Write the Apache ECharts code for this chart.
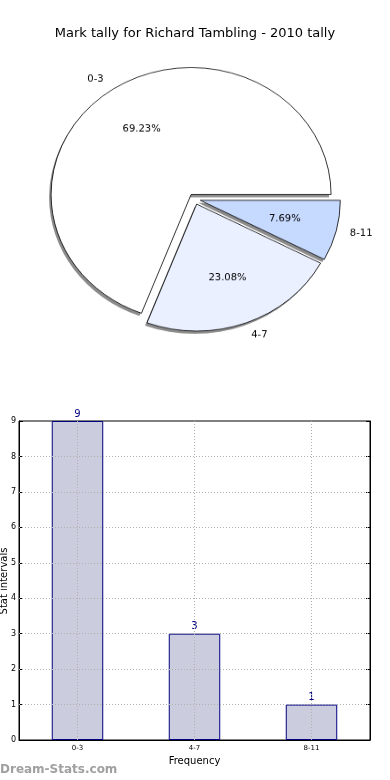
<!DOCTYPE html>
<html>
<head>
<meta charset="utf-8">
<script src="https://cdn.jsdelivr.net/npm/echarts@6/dist/echarts.min.js"></script>
<style>
html,body{margin:0;padding:0;background:#fff;}
#bar{position:absolute;left:0;top:0;width:390px;height:780px;}
#pie{position:absolute;left:0;top:0;width:390px;height:420px;transform:scaleY(0.907);transform-origin:0 0;pointer-events:none;}
</style>
</head>
<body>
<div id="bar"></div>
<div id="pie"></div>
<script>
const titleText = 'Mark tally for Richard Tambling - 2010 tally';
const categories = ['0-3', '4-7', '8-11'];
const counts = [9, 3, 1];
const pieColors = ['#ffffff', '#eaf0ff', '#c6d9ff'];
const yTicks = [0, 1, 2, 3, 4, 5, 6, 7, 8, 9];
const xName = 'Frequency';
const yName = 'Stat intervals';
const watermark = 'Dream-Stats.com';

const FONT = 'DejaVu Sans';

// ---------- bar chart + title ----------
const bar = echarts.init(document.getElementById('bar'), null, {renderer: 'canvas'});
const dotted = {color: '#b0b0b0', type: [1, 2], width: 1};
const gridMarks = [];
yTicks.slice(1, -1).forEach(v => gridMarks.push({yAxis: v}));
categories.forEach(c => gridMarks.push({xAxis: c}));

bar.setOption({
  animation: false,
  backgroundColor: '#fff',
  title: {
    text: titleText, left: 'center', top: 22,
    textStyle: {fontFamily: FONT, fontSize: 13, fontWeight: 'normal', color: '#000'}
  },
  graphic: [{
    type: 'text', left: 0, top: 764,
    style: {text: watermark, fontFamily: FONT, fontSize: 12, fontWeight: 'bold', fill: '#a0a0a0'}
  }, {
    type: 'text', x: 4, y: 581, rotation: Math.PI / 2,
    style: {text: yName, fontFamily: FONT, fontSize: 10, fill: '#000', align: 'center', verticalAlign: 'middle'}
  }],
  grid: {left: 19, right: 20, top: 421, bottom: 40, containLabel: false, outerBoundsMode: 'none',
    show: true, borderColor: '#000', borderWidth: 1, backgroundColor: 'transparent'},
  xAxis: [{
    type: 'category', data: categories,
    axisLine: {lineStyle: {color: '#000'}},
    axisTick: {show: true, inside: true, alignWithLabel: true, length: 4, lineStyle: {color: '#000'}},
    axisLabel: {fontFamily: FONT, fontSize: 7, color: '#000', margin: 5},
    name: xName, nameLocation: 'middle', nameGap: 16, nameMoveOverlap: false,
    nameTextStyle: {fontFamily: FONT, fontSize: 10, color: '#000'},
    splitLine: {show: false}
  }],
  yAxis: [{
    type: 'value', min: 0, max: 9, interval: 1,
    axisLine: {show: true, lineStyle: {color: '#000'}},
    axisTick: {show: true, inside: true, length: 4, lineStyle: {color: '#000'}},
    axisLabel: {fontFamily: FONT, fontSize: 8, color: '#000', margin: 3},
    splitLine: {show: false}
  }, {
    type: 'value', min: 0, max: 9, interval: 1, position: 'right',
    axisLine: {show: true, lineStyle: {color: '#000'}},
    axisTick: {show: true, inside: true, length: 4, lineStyle: {color: '#000'}},
    axisLabel: {show: false}, splitLine: {show: false}
  }],
  series: [{
    type: 'bar', data: counts, barWidth: '44%',
    itemStyle: {color: '#ccccdf', borderColor: '#000080', borderWidth: 1},
    label: {show: true, position: 'top', distance: 2, color: '#000080', fontFamily: FONT, fontSize: 10},
    markLine: {
      silent: true, symbol: 'none', animation: false,
      label: {show: false},
      lineStyle: dotted,
      data: gridMarks
    }
  }]
});

// ---------- pie chart (squashed vertically to an ellipse like the original) ----------
const pie = echarts.init(document.getElementById('pie'), null, {renderer: 'canvas'});
const R = 140;
const C = [194.5, 219.4];
const common = {
  type: 'pie', radius: [0, R], startAngle: 0, clockwise: false,
  selectedMode: 'multiple', selectedOffset: 6, avoidLabelOverlap: false,
  emphasis: {disabled: true}
};
pie.setOption({
  animation: false,
  series: [Object.assign({}, common, {
    // shadow layer
    center: [C[0] - 2, C[1] + 3], silent: true,
    data: categories.map((c, i) => ({name: c, value: counts[i], selected: true})),
    itemStyle: {color: '#8c8c8c', borderWidth: 0},
    label: {show: false}, labelLine: {show: false}
  }), Object.assign({}, common, {
    center: C,
    data: categories.map((c, i) => ({name: c, value: counts[i], selected: true, itemStyle: {color: pieColors[i]}})),
    itemStyle: {borderColor: '#000', borderWidth: 0.8},
    label: {show: true, position: 'outside', formatter: '{b}', fontFamily: FONT, fontSize: 10, color: '#000', distanceToLabelLine: 0},
    labelLine: {show: false, length: 14, length2: 0}
  }), Object.assign({}, common, {
    center: C, radius: [0, R * 1.2], silent: true,
    data: categories.map((c, i) => ({name: c, value: counts[i], selected: true})),
    itemStyle: {color: 'rgba(0,0,0,0)', borderWidth: 0},
    label: {show: true, position: 'inside', formatter: p => p.percent.toFixed(2) + '%', fontFamily: FONT, fontSize: 10, color: '#000'},
    labelLine: {show: false}
  })]
});
</script>
</body>
</html>
